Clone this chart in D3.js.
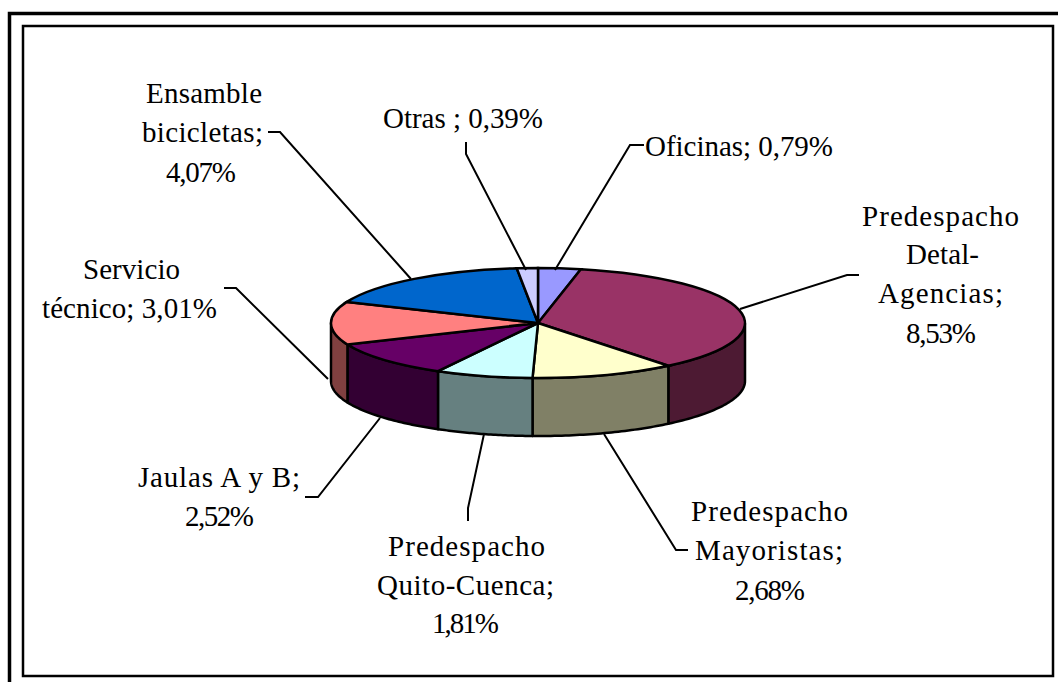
<!DOCTYPE html>
<html>
<head>
<meta charset="utf-8">
<script src="https://cdn.jsdelivr.net/npm/d3@7"></script>
<style>
body { margin: 0; background: #fff; }
text { font-family: "Liberation Serif", serif; font-size: 29px; fill: #000; }
</style>
</head>
<body>
<div id="viz"></div>
<script>
const width = 1058;
const height = 682;
const cx = 538, cy = 323, rx = 207, ry = 55, depth = 58;

const names = ['Oficinas', 'Predespacho Detal-Agencias', 'Predespacho Mayoristas', 'Predespacho Quito-Cuenca', 'Jaulas A y B', 'Servicio técnico', 'Ensamble bicicletas', 'Otras'];
const values = [0.79, 8.53, 2.68, 1.81, 2.52, 3.01, 4.07, 0.39];
const topColors = ['#9999ff', '#993366', '#ffffcc', '#ccffff', '#660066', '#ff8080', '#0066cc', '#ccccff'];
const sideColors = ['#5c5c99', '#4d1a33', '#808066', '#668080', '#330033', '#804040', '#003366', '#666680'];

const labelLines = [
	['Oficinas; 0,79%'],
	['Predespacho', 'Detal-', 'Agencias;', '8,53%'],
	['Predespacho', 'Mayoristas;', '2,68%'],
	['Predespacho', 'Quito-Cuenca;', '1,81%'],
	['Jaulas A y B;', '2,52%'],
	['Servicio', 'técnico; 3,01%'],
	['Ensamble', 'bicicletas;', '4,07%'],
	['Otras ; 0,39%']
];

// layout of the labels, line by line: left edge, baseline, drawn width
const labelX = [[645], [862, 906, 878, 906], [691, 695, 735], [388, 377, 432], [138, 185], [83, 42], [146, 142, 166], [383]];
const labelY = [[156], [226, 264, 303, 343], [521, 560, 600], [556, 595, 633], [487, 526], [279, 318], [103, 142, 182], [128]];
const labelW = [[188], [157, 73, 125, 70], [157, 148, 70], [157, 177, 67], [162, 69], [97, 175], [116, 121, 70], [160]];

const leaders = [
	[[644, 145], [630, 145], [555, 270]],
	[[859, 275], [847, 275], [740, 309]],
	[[688, 550], [676, 550], [604, 434]],
	[[468, 521], [468, 508], [484, 434]],
	[[305, 497], [318, 497], [380, 418]],
	[[224, 288], [236, 288], [328, 379]],
	[[268, 132], [280, 132], [411, 279]],
	[[466, 142], [466, 154], [526, 270]]
];

const pie = d3.pie().sort(null).value(d => d);
const arcs = pie(values);
const px = a => cx + rx * Math.sin(a);
const py = a => cy - ry * Math.cos(a);

const chart = d3.select('#viz')
	.append('svg')
	.attr('width', width)
	.attr('height', height)
	.attr('viewBox', [0, 0, width, height])
	.style('display', 'block');

// outer frame runs off the picture at the right and at the bottom
chart.append('path')
	.attr('d', d3.line()([[9.5, height], [9.5, 13.5], [width, 13.5]]))
	.attr('fill', 'none')
	.attr('stroke', '#000')
	.attr('stroke-width', 3.5);
chart.append('rect').attr('x', 23).attr('y', 26).attr('width', 1030).attr('height', 650)
	.attr('fill', '#fff').attr('stroke', '#000').attr('stroke-width', 2.5);

// side walls of the front half only
const side = d3.area()
	.x(a => px(a))
	.y0(a => py(a))
	.y1(a => py(a) + depth);

arcs.forEach((d, i) => {
	const a0 = Math.max(d.startAngle, Math.PI / 2);
	const a1 = Math.min(d.endAngle, Math.PI * 1.5);
	if (a1 <= a0) return;
	chart.append('path')
		.attr('d', side(d3.range(0, 41).map(k => a0 + (a1 - a0) * k / 40)))
		.attr('fill', sideColors[i])
		.attr('stroke', '#000')
		.attr('stroke-width', 2.5)
		.attr('stroke-linejoin', 'round');
});

// top slices
const arcGen = d3.arc().innerRadius(0).outerRadius(rx);
chart.append('g')
	.attr('transform', `translate(${cx},${cy}) scale(1,${ry / rx})`)
	.selectAll('path')
	.data(arcs)
	.join('path')
	.attr('d', arcGen)
	.attr('fill', (d, i) => topColors[i])
	.attr('stroke', '#000')
	.attr('stroke-width', 2.5)
	.attr('vector-effect', 'non-scaling-stroke');

// leader lines
const line = d3.line();
chart.selectAll('.leader')
	.data(leaders)
	.join('path')
	.attr('class', 'leader')
	.attr('d', line)
	.attr('fill', 'none')
	.attr('stroke', '#000')
	.attr('stroke-width', 2);

// labels
labelLines.forEach((lines, i) => {
	lines.forEach((txt, k) => {
		chart.append('text')
			.attr('x', labelX[i][k])
			.attr('y', labelY[i][k])
			.attr('textLength', labelW[i][k])
			.attr('lengthAdjust', 'spacing')
			.text(txt);
	});
});
</script>
</body>
</html>
